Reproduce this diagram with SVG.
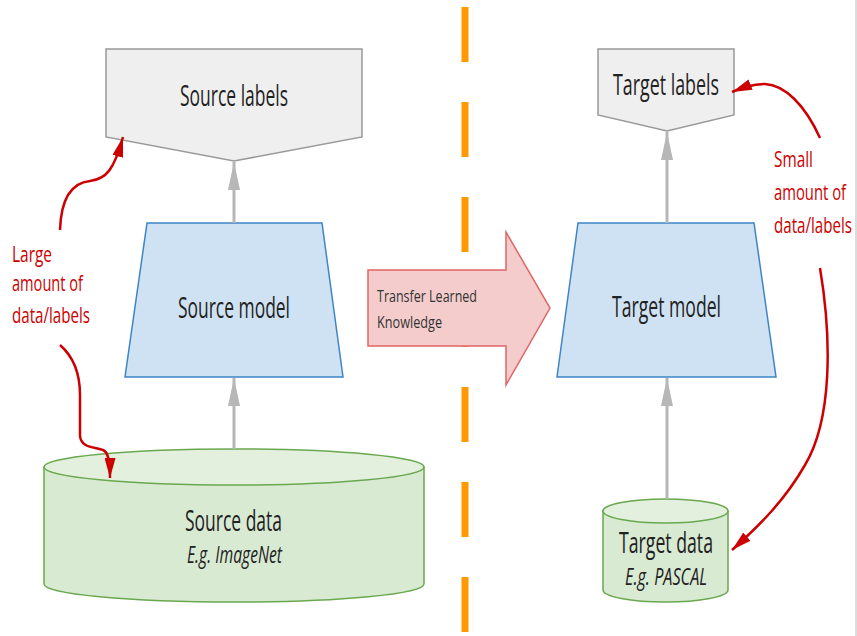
<svg xmlns="http://www.w3.org/2000/svg" width="857" height="636" viewBox="0 0 857 636">
<defs>
<style>
text{font-family:"Open Sans","Liberation Sans",sans-serif;fill:#222;}
.lbl{font-size:30px;}
.sub{font-size:23px;font-style:italic;}
.red{font-size:22px;fill:#cc0000;}
.small{font-size:17px;fill:#333;}
.gray{stroke:#b7b7b7;stroke-width:3;fill:none;}
.redc{stroke:#cc0000;stroke-width:2.5;fill:none;}
</style>
<marker id="ga" markerUnits="userSpaceOnUse" viewBox="0 0 28 12" refX="28" refY="6" markerWidth="28" markerHeight="12" orient="auto">
<path d="M0,0 L28,6 L0,12 Z" fill="#b7b7b7"/>
</marker>
<marker id="ra" markerUnits="userSpaceOnUse" viewBox="0 0 20 11" refX="20" refY="5.5" markerWidth="20" markerHeight="11" orient="auto">
<path d="M0,0 L20,5.5 L0,11 Z" fill="#cc0000"/>
</marker>
</defs>
<rect x="0" y="0" width="857" height="636" fill="#ffffff"/>
<line x1="856" y1="0" x2="856" y2="636" stroke="#d0d0d0" stroke-width="1.5"/>
<line x1="465" y1="7" x2="465" y2="636" stroke="#ff9900" stroke-width="7" stroke-dasharray="55 40"/>

<g id="transfer">
<path d="M368,270 L506,270 L506,232 L550,308 L506,385 L506,346 L368,346 Z" fill="#f4cccc" stroke="#e06666" stroke-width="1.5"/>
<text class="small" x="377" y="302" textLength="100" lengthAdjust="spacingAndGlyphs">Transfer Learned</text>
<text class="small" x="377" y="328" textLength="65" lengthAdjust="spacingAndGlyphs">Knowledge</text>
</g>

<g id="source-labels">
<path d="M106,49 L362,49 L362,137 L234,161 L106,137 Z" fill="#efefef" stroke="#999999" stroke-width="1.5"/>
<text class="lbl" x="180" y="106" textLength="108" lengthAdjust="spacingAndGlyphs">Source labels</text>
</g>
<g id="target-labels">
<path d="M598,49 L734,49 L734,115 L667,131 L598,115 Z" fill="#efefef" stroke="#999999" stroke-width="1.5"/>
<text class="lbl" x="613" y="95" textLength="106" lengthAdjust="spacingAndGlyphs">Target labels</text>
</g>
<g id="source-model">
<path d="M147,223 L322,223 L343,377 L125,377 Z" fill="#cfe2f3" stroke="#3d85c6" stroke-width="1.5"/>
<text class="lbl" x="178" y="318" textLength="112" lengthAdjust="spacingAndGlyphs">Source model</text>
</g>
<g id="target-model">
<path d="M578,223 L754,223 L776,377 L557,377 Z" fill="#cfe2f3" stroke="#3d85c6" stroke-width="1.5"/>
<text class="lbl" x="612" y="317" textLength="109" lengthAdjust="spacingAndGlyphs">Target model</text>
</g>
<g id="source-data">
<path d="M44,467 L44,584 A190,18 0 0 0 424,584 L424,467 Z" fill="#d9ead3" stroke="#6aa84f" stroke-width="1.5"/>
<ellipse cx="234" cy="467" rx="190" ry="18" fill="#e2f0dd" stroke="#6aa84f" stroke-width="1.5"/>
<text class="lbl" x="185" y="531" textLength="97" lengthAdjust="spacingAndGlyphs">Source data</text>
<text class="sub" x="187" y="563" textLength="95" lengthAdjust="spacingAndGlyphs">E.g. ImageNet</text>
</g>
<g id="target-data">
<path d="M603,511 L603,590 A62.5,12 0 0 0 728,590 L728,511 Z" fill="#d9ead3" stroke="#6aa84f" stroke-width="1.5"/>
<ellipse cx="665.5" cy="511" rx="62.5" ry="12" fill="#e2f0dd" stroke="#6aa84f" stroke-width="1.5"/>
<text class="lbl" x="619" y="553" textLength="94" lengthAdjust="spacingAndGlyphs">Target data</text>
<text class="sub" x="625" y="585" textLength="82" lengthAdjust="spacingAndGlyphs">E.g. PASCAL</text>
</g>

<g id="notes">
<text class="red" x="12" y="262" textLength="40" lengthAdjust="spacingAndGlyphs">Large</text>
<text class="red" x="12" y="291" textLength="71" lengthAdjust="spacingAndGlyphs">amount of</text>
<text class="red" x="12" y="323" textLength="78" lengthAdjust="spacingAndGlyphs">data/labels</text>
<text class="red" transform="translate(774,167) scale(0.7,1)" x="0" y="0" textLength="55.7" lengthAdjust="spacingAndGlyphs">Small</text>
<text class="red" transform="translate(774,200) scale(0.7,1)" x="0" y="0" textLength="102.9" lengthAdjust="spacingAndGlyphs">amount of</text>
<text class="red" transform="translate(774,233) scale(0.7,1)" x="0" y="0" textLength="111.4" lengthAdjust="spacingAndGlyphs">data/labels</text>
</g>

<g id="connectors">
<line class="gray" x1="234" y1="223" x2="234" y2="162" marker-end="url(#ga)"/>
<line class="gray" x1="234" y1="449" x2="234" y2="378" marker-end="url(#ga)"/>
<line class="gray" x1="667" y1="223" x2="667" y2="132" marker-end="url(#ga)"/>
<line class="gray" x1="667" y1="499" x2="667" y2="378" marker-end="url(#ga)"/>
<path class="redc" d="M60,230 C61,200 70,183 90,181 C106,179 114,170 123,137" marker-end="url(#ra)"/>
<path class="redc" d="M60,345 C75,358 80,375 80,395 L80,435 C80,448 95,447 103,450 C108,452 110,460 110,478" marker-end="url(#ra)"/>
<path class="redc" d="M820,138 C805,105 785,85 765,84 C752,84 742,88 732,92" marker-end="url(#ra)"/>
<path class="redc" d="M820,268 C832,340 832,420 805,465 C785,500 760,525 732,550" marker-end="url(#ra)"/>
</g>
</svg>
